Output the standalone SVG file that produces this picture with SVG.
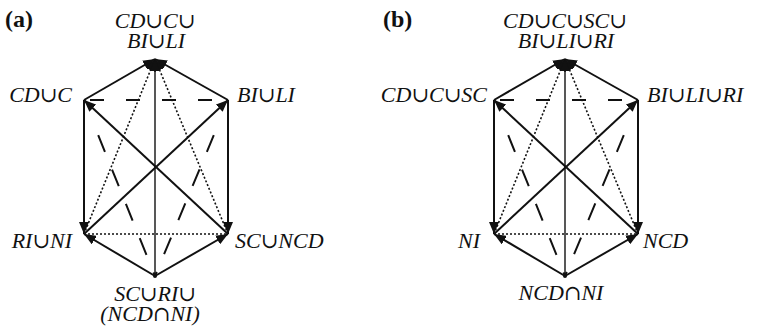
<svg xmlns="http://www.w3.org/2000/svg" width="760" height="333" viewBox="0 0 760 333">
  <style>
    text { font-family: "Liberation Serif", "Times New Roman", Times, serif; }
    .lbl { font-style: italic; font-size: 22px; fill: #111; }
    .op { font-family: "DejaVu Serif", "Liberation Serif", serif; font-style: normal; font-size: 21px; }
    .tag { font-weight: bold; font-size: 24px; fill: #111; }
    .solid { stroke: #111; stroke-width: 2; fill: none; }
    .thin { stroke: #111; stroke-width: 1.4; fill: none; }
    .dot { stroke: #111; stroke-width: 1.6; stroke-dasharray: 2 2; fill: none; }
    .dashh { stroke: #111; stroke-width: 2; stroke-dasharray: 14 22; fill: none; }
    .dashd { stroke: #111; stroke-width: 2; stroke-dasharray: 18 19; fill: none; }
  </style>
  <defs>
    <marker id="ah" markerUnits="userSpaceOnUse" markerWidth="14" markerHeight="10" refX="12" refY="5" orient="auto">
      <path d="M0,0 L12,5 L0,10 z" fill="#111"/>
    </marker>
    <g id="edges">
      <line class="solid" x1="84" y1="100" x2="155" y2="59" marker-end="url(#ah)"/>
      <line class="solid" x1="228" y1="100" x2="155" y2="59" marker-end="url(#ah)"/>
      <line class="dot" x1="84" y1="234" x2="155" y2="59" marker-end="url(#ah)"/>
      <line class="dot" x1="228" y1="234" x2="155" y2="59" marker-end="url(#ah)"/>
      <line class="thin" x1="155" y1="276" x2="155" y2="59" marker-end="url(#ah)"/>
      <line class="solid" x1="84" y1="100" x2="84" y2="234" marker-end="url(#ah)"/>
      <line class="solid" x1="228" y1="100" x2="228" y2="234" marker-end="url(#ah)"/>
      <line class="solid" x1="228" y1="234" x2="84" y2="100" marker-end="url(#ah)"/>
      <line class="solid" x1="84" y1="234" x2="228" y2="100" marker-end="url(#ah)"/>
      <line class="solid" x1="155" y1="276" x2="84" y2="234" marker-end="url(#ah)"/>
      <line class="solid" x1="155" y1="276" x2="228" y2="234" marker-end="url(#ah)"/>
      <line class="dashh" x1="90" y1="100" x2="212" y2="100"/>
      <line class="dashd" x1="98.2" y1="135.2" x2="155" y2="276"/>
      <line class="dashd" x1="213.8" y1="135.2" x2="155" y2="276"/>
      <line class="dot" x1="84" y1="234" x2="228" y2="234"/>
      <circle cx="155" cy="276" r="2" fill="#111"/>
    </g>
  </defs>

  <g id="connectors">
    <use href="#edges"/>
    <use href="#edges" transform="translate(410,0)"/>
  </g>

  <g id="panel-a-tag"><text class="tag" x="5" y="27">(a)</text></g>
  <g id="a-top">
    <text class="lbl" x="155" y="28" text-anchor="middle">CD<tspan class="op">∪</tspan>C<tspan class="op">∪</tspan></text>
    <text class="lbl" x="156" y="48" text-anchor="middle">BI<tspan class="op">∪</tspan>LI</text>
  </g>
  <g id="a-ul"><text class="lbl" x="72" y="102" text-anchor="end">CD<tspan class="op">∪</tspan>C</text></g>
  <g id="a-ur"><text class="lbl" x="237" y="102">BI<tspan class="op">∪</tspan>LI</text></g>
  <g id="a-ll"><text class="lbl" x="72" y="248" text-anchor="end">RI<tspan class="op">∪</tspan>NI</text></g>
  <g id="a-lr"><text class="lbl" x="235" y="248">SC<tspan class="op">∪</tspan>NCD</text></g>
  <g id="a-bottom">
    <text class="lbl" x="155" y="301" text-anchor="middle">SC<tspan class="op">∪</tspan>RI<tspan class="op">∪</tspan></text>
    <text class="lbl" x="150" y="321" text-anchor="middle">(NCD<tspan class="op">∩</tspan>NI)</text>
  </g>

  <g id="panel-b-tag"><text class="tag" x="383" y="27">(b)</text></g>
  <g id="b-top">
    <text class="lbl" x="565" y="28" text-anchor="middle">CD<tspan class="op">∪</tspan>C<tspan class="op">∪</tspan>SC<tspan class="op">∪</tspan></text>
    <text class="lbl" x="566" y="48" text-anchor="middle">BI<tspan class="op">∪</tspan>LI<tspan class="op">∪</tspan>RI</text>
  </g>
  <g id="b-ul"><text class="lbl" x="487" y="102" text-anchor="end">CD<tspan class="op">∪</tspan>C<tspan class="op">∪</tspan>SC</text></g>
  <g id="b-ur"><text class="lbl" x="647" y="102">BI<tspan class="op">∪</tspan>LI<tspan class="op">∪</tspan>RI</text></g>
  <g id="b-ll"><text class="lbl" x="480" y="248" text-anchor="end">NI</text></g>
  <g id="b-lr"><text class="lbl" x="643" y="248">NCD</text></g>
  <g id="b-bottom"><text class="lbl" x="561" y="300" text-anchor="middle">NCD<tspan class="op">∩</tspan>NI</text></g>
</svg>
